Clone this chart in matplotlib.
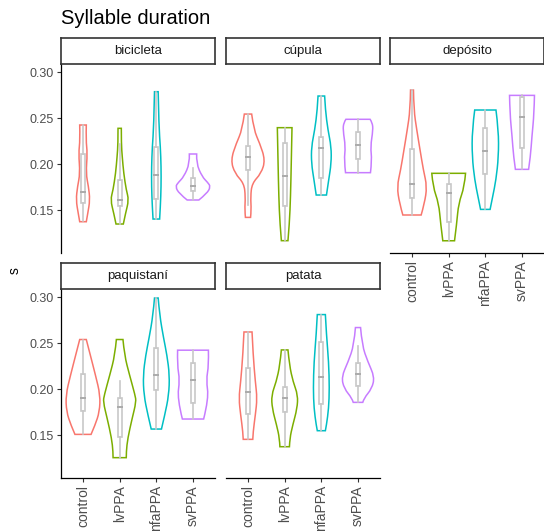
import numpy as np
import matplotlib
matplotlib.use("Agg")
import matplotlib.pyplot as plt
from matplotlib.patches import Rectangle, PathPatch
from matplotlib.path import Path

plt.rcParams['font.family'] = ['Liberation Sans', 'DejaVu Sans']

# Gruplar ve renkler
groups = ["control", "lvPPA", "nfaPPA", "svPPA"]
colors = ["#F8766D", "#7CAE00", "#00BFC4", "#C77CFF"]
words = ["bicicleta", "cúpula", "depósito", "paquistaní", "patata"]
yticks = [0.15, 0.20, 0.25, 0.30]

# Violin profilleri: seviye (s) ve yarı genişlik, üstten alta
bicicleta_y = [[0.2424, 0.2261, 0.2116, 0.1899, 0.1754, 0.1609, 0.1464, 0.1373],
               [0.2388, 0.222, 0.208, 0.190, 0.1717, 0.161, 0.1464, 0.1348],
               [0.2786, 0.2406, 0.2188, 0.197, 0.1754, 0.1536, 0.1402],
               [0.2109, 0.2007, 0.1862, 0.180, 0.1754, 0.168, 0.1609]]
bicicleta_w = [[0.09, 0.08, 0.12, 0.08, 0.15, 0.19, 0.13, 0.09],
               [0.045, 0.045, 0.07, 0.11, 0.18, 0.25, 0.16, 0.10],
               [0.05, 0.07, 0.11, 0.13, 0.13, 0.11, 0.09],
               [0.10, 0.09, 0.25, 0.40, 0.48, 0.38, 0.16]]
bicicleta_box = [[0.138, 0.158, 0.1696, 0.211, 0.242],
                 [0.135, 0.1543, 0.161, 0.1826, 0.222],
                 [0.140, 0.1616, 0.188, 0.2188, 0.278],
                 [0.161, 0.171, 0.1765, 0.1844, 0.1953]]

cupula_y = [[0.2543, 0.237, 0.2225, 0.2043, 0.1899, 0.179, 0.1645, 0.150, 0.142],
            [0.2395, 0.2007, 0.1645, 0.1355, 0.1167],
            [0.2739, 0.2587, 0.237, 0.2188, 0.2007, 0.1826, 0.1663],
            [0.2486, 0.245, 0.237, 0.2188, 0.2043, 0.1906]]
cupula_w = [[0.10, 0.16, 0.32, 0.47, 0.36, 0.11, 0.07, 0.09, 0.07],
            [0.20, 0.18, 0.16, 0.13, 0.09],
            [0.09, 0.11, 0.18, 0.27, 0.27, 0.20, 0.14],
            [0.33, 0.39, 0.41, 0.34, 0.38, 0.34]]
cupula_box = [[0.1554, 0.1935, 0.208, 0.2196, 0.2543],
              [0.1167, 0.1543, 0.1873, 0.2225, 0.2395],
              [0.1663, 0.1844, 0.217, 0.2297, 0.2739],
              [0.1906, 0.2051, 0.2207, 0.2351, 0.2486]]

deposito_y = [[0.2804, 0.2587, 0.237, 0.2152, 0.1935, 0.1754, 0.1572, 0.1446],
              [0.1899, 0.1754, 0.1572, 0.1355, 0.1166],
              [0.2587, 0.237, 0.208, 0.1826, 0.1645, 0.1507],
              [0.2746, 0.2551, 0.2297, 0.208, 0.1942]]
deposito_w = [[0.04, 0.05, 0.13, 0.22, 0.31, 0.41, 0.34, 0.25],
              [0.46, 0.43, 0.27, 0.22, 0.16],
              [0.29, 0.36, 0.36, 0.29, 0.20, 0.13],
              [0.34, 0.33, 0.27, 0.23, 0.18]]
deposito_box = [[0.1446, 0.1627, 0.178, 0.216, 0.2804],
                [0.1166, 0.1373, 0.1681, 0.178, 0.1899],
                [0.1507, 0.1891, 0.2145, 0.2395, 0.2587],
                [0.1942, 0.217, 0.2507, 0.2724, 0.2746]]

paquistani_y = [[0.2538, 0.2368, 0.2151, 0.1934, 0.1753, 0.1608, 0.1507],
                [0.2538, 0.2368, 0.2151, 0.1934, 0.1861, 0.168, 0.1464, 0.1319, 0.1254],
                [0.2989, 0.2802, 0.2549, 0.2368, 0.2151, 0.1934, 0.1717, 0.1565],
                [0.2422, 0.2259, 0.2097, 0.1898, 0.1674]]
paquistani_w = [[0.09, 0.20, 0.34, 0.47, 0.45, 0.33, 0.22],
                [0.09, 0.13, 0.27, 0.42, 0.45, 0.34, 0.22, 0.18, 0.18],
                [0.05, 0.09, 0.20, 0.29, 0.36, 0.34, 0.23, 0.14],
                [0.42, 0.43, 0.36, 0.43, 0.29]]
paquistani_box = [[0.1507, 0.1764, 0.1905, 0.2158, 0.2538],
                  [0.1254, 0.1481, 0.1807, 0.1897, 0.2086],
                  [0.1565, 0.1988, 0.2151, 0.2451, 0.2989],
                  [0.1674, 0.185, 0.2097, 0.2288, 0.2422]]

patata_y = [[0.262, 0.2368, 0.2078, 0.1898, 0.1717, 0.1536, 0.1453],
            [0.2425, 0.2259, 0.2078, 0.1934, 0.1789, 0.1608, 0.1464, 0.1373],
            [0.2809, 0.2585, 0.2295, 0.2006, 0.1789, 0.1608, 0.1547],
            [0.2668, 0.2476, 0.2295, 0.2132, 0.2006, 0.1898, 0.1855]]
patata_w = [[0.11, 0.14, 0.20, 0.25, 0.20, 0.14, 0.13],
            [0.09, 0.13, 0.23, 0.36, 0.34, 0.22, 0.14, 0.13],
            [0.11, 0.14, 0.20, 0.22, 0.20, 0.14, 0.11],
            [0.07, 0.11, 0.27, 0.45, 0.38, 0.16, 0.13]]
patata_box = [[0.1453, 0.1728, 0.197, 0.223, 0.262],
              [0.1373, 0.1746, 0.1898, 0.2024, 0.2425],
              [0.1547, 0.1833, 0.2126, 0.2512, 0.2809],
              [0.1855, 0.2031, 0.2158, 0.2278, 0.2466]]

panel_y = [bicicleta_y, cupula_y, deposito_y, paquistani_y, patata_y]
panel_w = [bicicleta_w, cupula_w, deposito_w, paquistani_w, patata_w]
panel_box = [bicicleta_box, cupula_box, deposito_box, paquistani_box, patata_box]


def side_path(xs, ys):
    # quadratic bezier through the knots (midpoints on curve)
    verts = []
    codes = []
    n = len(xs)
    if n < 3:
        for x, y in zip(xs[1:], ys[1:]):
            verts.append((x, y))
            codes.append(Path.LINETO)
        return verts, codes
    for i in range(1, n - 1):
        verts.append((xs[i], ys[i]))
        codes.append(Path.CURVE3)
        if i < n - 2:
            verts.append(((xs[i] + xs[i + 1]) / 2, (ys[i] + ys[i + 1]) / 2))
        else:
            verts.append((xs[n - 1], ys[n - 1]))
        codes.append(Path.CURVE3)
    return verts, codes


def violin_patch(xc, ys, ws, color):
    ys = np.asarray(ys)
    ws = np.asarray(ws)
    rx = xc + ws
    lx = (xc - ws)[::-1]
    ly = ys[::-1]
    verts = [(rx[0], ys[0])]
    codes = [Path.MOVETO]
    v, c = side_path(rx, ys)
    verts += v
    codes += c
    verts.append((lx[0], ly[0]))
    codes.append(Path.LINETO)
    v, c = side_path(lx, ly)
    verts += v
    codes += c
    verts.append((rx[0], ys[0]))
    codes.append(Path.CLOSEPOLY)
    return PathPatch(Path(verts, codes), facecolor="white", edgecolor=color,
                     lw=1.1, zorder=2)


W, H = 544, 532
fig = plt.figure(figsize=(W / 100, H / 100), dpi=100)

col_left = [61, 226, 390]
col_width = 154
row_top = [64, 289]
panel_h = 189
strip_h = 26

# panel yerleşimi: (satır, sütun)
pos = [(0, 0), (0, 1), (0, 2), (1, 0), (1, 1)]
has_x = [False, False, True, True, True]

for k, word in enumerate(words):
    r, c = pos[k]
    x0 = col_left[c] / W
    y0 = 1 - (row_top[r] + panel_h) / H
    ax = fig.add_axes([x0, y0, col_width / W, panel_h / H])
    sax = fig.add_axes([x0, 1 - row_top[r] / H, col_width / W, strip_h / H])

    for i, g in enumerate(groups):
        xc = i + 1
        ax.add_patch(violin_patch(xc, panel_y[k][i], panel_w[k][i], colors[i]))
        lo, q1, med, q3, hi = panel_box[k][i]
        bw = 0.055
        ax.plot([xc, xc], [lo, q1], color="#C8C8C8", lw=1.2, zorder=3)
        ax.plot([xc, xc], [q3, hi], color="#C8C8C8", lw=1.2, zorder=3)
        ax.add_patch(Rectangle((xc - bw, q1), 2 * bw, q3 - q1, facecolor="none",
                               edgecolor="#C8C8C8", lw=1.2, zorder=3))
        ax.plot([xc - bw, xc + bw], [med, med], color="#AAAAAA", lw=1.4, zorder=4)

    ax.set_xlim(0.4, 4.6)
    ax.set_ylim(0.1033, 0.3087)
    for s in ["top", "right"]:
        ax.spines[s].set_visible(False)
    ax.spines["left"].set_visible(c == 0)
    ax.spines["bottom"].set_visible(has_x[k])
    ax.spines["left"].set_linewidth(0.9)
    ax.spines["bottom"].set_linewidth(0.9)
    if c == 0:
        ax.set_yticks(yticks)
        ax.set_yticklabels(["%.2f" % v for v in yticks])
        ax.tick_params(axis="y", length=3, width=0.8, colors="#333333",
                       labelcolor="#4D4D4D", labelsize=9, pad=2)
    else:
        ax.set_yticks([])
    if has_x[k]:
        ax.set_xticks(range(1, 5))
        ax.set_xticklabels(groups, rotation=90)
        ax.tick_params(axis="x", length=3, width=0.8, colors="#333333",
                       labelcolor="#4D4D4D", labelsize=10, pad=2)
    else:
        ax.set_xticks([])
    ax.patch.set_alpha(0)

    sax.set_xticks([])
    sax.set_yticks([])
    for s in sax.spines.values():
        s.set_linewidth(1.2)
        s.set_color("#333333")
    sax.text(0.5, 0.5, word, ha="center", va="center", fontsize=9.5,
             color="#1A1A1A", transform=sax.transAxes)

fig.text(61 / W, 1 - 18 / H, "Syllable duration", fontsize=14.5, ha="left", va="center")
fig.text(15 / W, 1 - 271 / H, "s", fontsize=10, rotation=90, ha="center", va="center")

fig.savefig("out.png", dpi=100)
